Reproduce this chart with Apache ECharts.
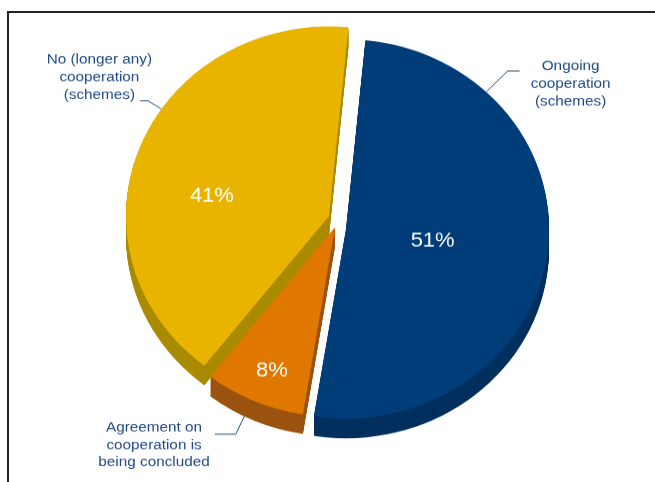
<!DOCTYPE html>
<html><head><meta charset="utf-8">
<script src="https://cdn.jsdelivr.net/npm/echarts@6/dist/echarts.min.js"></script>
<style>
html,body{margin:0;padding:0;width:655px;height:482px;overflow:hidden;background:#fff;}
#wrap{position:absolute;left:0;top:0;width:655px;height:482px;overflow:hidden;}
#chart{position:absolute;left:0;top:0;width:655px;height:516px;transform:scaleY(0.934109);transform-origin:0 0;}
#frame{position:absolute;left:7px;top:11px;width:680px;height:500px;border-left:2px solid #222;border-top:2px solid #222;}
</style></head>
<body><div id="wrap"><div id="frame"></div><div id="chart"></div></div>
<script>
// ---- data ----
const categories = ['Ongoing cooperation (schemes)', 'Agreement on cooperation is being concluded', 'No (longer any) cooperation (schemes)'];
const labelTexts = [['Ongoing', 'cooperation', '(schemes)'], ['Agreement on', 'cooperation is', 'being concluded'], ['No (longer any)', 'cooperation', '(schemes)']];
const values = [51, 8, 41];

// ---- styles ----
const topColors = ['#003D79', '#E07800', '#E8B400'];
const sideColors = ['#002F5E', '#9C5310', '#A98A00'];
const textColor = '#1F4A85';

// ---- layout ----
const K = 482 / 516;           // vertical squash for the 3D tilt
const R = 203;
const START = 84.5;
const DEPTH = 21;
const centersScreen = [[346, 229], [335, 227], [329, 216]];
const toChart = p => [p[0], p[1] / K];
const pctShift = [{dx: -17, dy: 0}, {dx: -21.5, dy: 58}, {dx: -20, dy: 17}];
const nameCfg = [
  {start: 138.1, len: 31, len2: 12, dist: 11, pad: [28, 0, 0, 0]},
  {start: 83.9, len: 40, len2: 21, dist: 5, pad: [23, 0, 0, 0]},
  {start: 71.9, len: 16, len2: 8, dist: -12, pad: [0, 0, 50, 0]}
];

const NAME_FONT = "'Liberation Sans Narrow','Arial Narrow','Liberation Sans',Arial,sans-serif";
const PCT_FONT = "'Liberation Sans',Arial,sans-serif";
function measure(fam, txt) {
  const c = document.createElement('canvas').getContext('2d');
  c.font = '100px ' + fam;
  return c.measureText(txt).width;
}
const nameSize = 80 * 100 / measure(NAME_FONT, 'cooperation');
const nameLineH = 17.5 / K;

function sliceSeries(idx, color, dy, z, withLabel) {
  const c = toChart(centersScreen[idx]);
  const s = {
    type: 'pie', silent: true, z: z, animation: false,
    center: [c[0], c[1] + dy], radius: R, startAngle: START, clockwise: true,
    percentPrecision: 0, avoidLabelOverlap: false,
    label: {show: false}, labelLine: {show: false},
    emphasis: {disabled: true},
    data: values.map((v, i) => ({
      name: categories[i], value: v,
      itemStyle: {color: i === idx ? color : 'rgba(0,0,0,0)', borderWidth: 0},
      label: (withLabel && i === idx) ? {
        show: true, position: 'inside', formatter: '{d}%',
        color: '#ffffff', fontSize: 22, fontFamily: PCT_FONT, fontWeight: 'normal'
      } : {show: false}
    }))
  };
  if (withLabel) s.labelLayout = pctShift[idx];
  return s;
}

function nameSeries(idx) {
  const c = toChart(centersScreen[idx]);
  const cfg = nameCfg[idx];
  return {
    type: 'pie', silent: true, z: 1, animation: false,
    center: c, radius: R, startAngle: cfg.start, clockwise: true,
    avoidLabelOverlap: false,
    emphasis: {disabled: true},
    data: values.map((v, i) => ({
      name: categories[i], value: v,
      itemStyle: {color: 'rgba(0,0,0,0)', borderWidth: 0},
      label: i === idx ? {
        show: true, position: 'outside',
        distanceToLabelLine: cfg.dist, padding: cfg.pad,
        formatter: labelTexts[i].map(t => '{t|' + t + '}').join('\n'),
        rich: {t: {align: 'center', color: textColor, fontSize: nameSize, lineHeight: nameLineH, fontFamily: NAME_FONT}}
      } : {show: false},
      labelLine: i === idx ? {show: true, length: cfg.len, length2: cfg.len2, lineStyle: {color: textColor, width: 1}} : {show: false}
    }))
  };
}

const series = [];
for (let i = 0; i < 3; i++) series.push(nameSeries(i));
for (let d = DEPTH; d >= 1; d--) {
  for (let i = 0; i < 3; i++) series.push(sliceSeries(i, sideColors[i], d, 2, false));
}
for (let i = 0; i < 3; i++) series.push(sliceSeries(i, topColors[i], 0, 3, true));

const chart = echarts.init(document.getElementById('chart'), null, {renderer: 'canvas'});
chart.setOption({animation: false, backgroundColor: 'transparent', series: series});
</script>
</body></html>
